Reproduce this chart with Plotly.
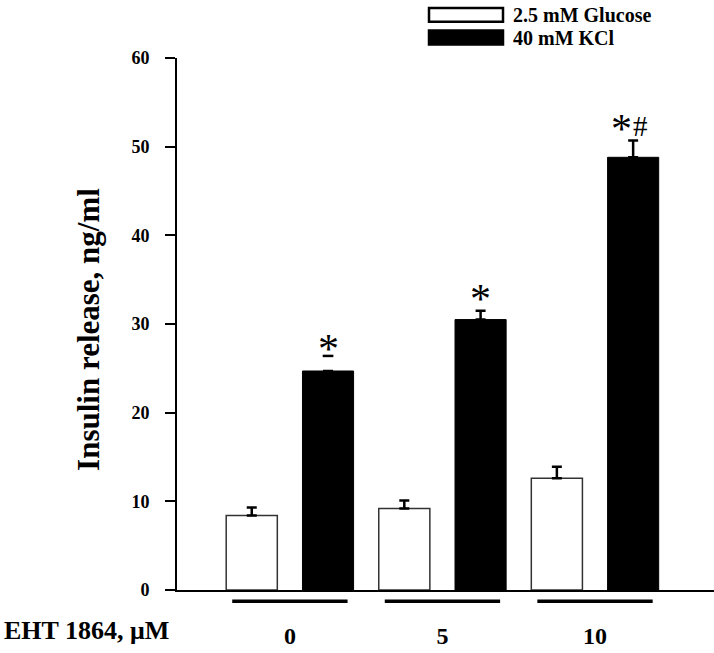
import plotly.graph_objects as go

groups = ["0", "5", "10"]
series_names = ["2.5 mM Glucose", "40 mM KCl"]
glucose = [8.4, 9.2, 12.6]
glucose_err = [0.9, 0.9, 1.3]
kcl = [24.7, 30.5, 48.8]
kcl_err = [0.0, 1.0, 1.9]
kcl0_cap = 26.4  # floating SEM cap over first KCl bar
star_marks = ["*", "*", "*"]
hash_marks = ["", "", "#"]
sig_y = [27.2, 32.8, 52.0]
y_ticks = [0, 10, 20, 30, 40, 50, 60]

FONT = "Liberation Serif"
xpos = list(range(len(groups)))

fig = go.Figure()
fig.add_trace(go.Bar(
    x=xpos, y=glucose, name=series_names[0],
    marker=dict(color="white", line=dict(color="#333", width=1.5)),
    error_y=dict(type="data", array=glucose_err, arrayminus=[0]*3, symmetric=False,
                 color="black", thickness=2.5, width=5),
    showlegend=False,
))
fig.add_trace(go.Bar(
    x=xpos, y=kcl, name=series_names[1],
    marker=dict(color="black", line=dict(color="black", width=1)),
    error_y=dict(type="data", array=kcl_err, arrayminus=[0]*3, symmetric=False,
                 color="black", thickness=2.5, width=5),
    showlegend=False,
))
# floating cap over first KCl bar
fig.add_shape(type="line", xref="x", yref="y",
              x0=xpos[0] + 0.25 - 0.035, x1=xpos[0] + 0.25 + 0.035,
              y0=kcl0_cap, y1=kcl0_cap, line=dict(color="black", width=2.5))

for i in xpos:
    has_hash = hash_marks[i] != ""
    fig.add_annotation(x=xpos[i] + 0.25 - (0.075 if has_hash else 0), y=sig_y[i],
                       xref="x", yref="y", text=star_marks[i],
                       showarrow=False, font=dict(family=FONT, size=42, color="black"),
                       yanchor="middle")
    if has_hash:
        fig.add_annotation(x=xpos[i] + 0.25 + 0.05, y=sig_y[i] + 0.3,
                           xref="x", yref="y", text=hash_marks[i],
                           showarrow=False, font=dict(family=FONT, size=29, color="black"),
                           yanchor="middle")

# group underlines below the axis
for i in xpos:
    fig.add_shape(type="line", xref="x", yref="paper", x0=i - 0.378, x1=i + 0.378,
                  y0=-0.021, y1=-0.021, line=dict(color="black", width=3.5))

fig.add_annotation(x=-0.326, y=-0.077, xref="paper", yref="paper", text="<b>EHT 1864, μM</b>",
                   showarrow=False, xanchor="left", yanchor="middle",
                   font=dict(family=FONT, size=26, color="black"))

fig.add_annotation(x=-0.201, y=0.49, xref="paper", yref="paper",
                   text="<b>Insulin release, ng/ml</b>", textangle=-90, showarrow=False,
                   font=dict(family=FONT, size=31, color="black"))

# legend drawn manually
leg_y = [1.081, 1.0385]
fills = ["white", "black"]
for k in range(2):
    fig.add_shape(type="rect", xref="paper", yref="paper",
                  x0=(429 - 177) / 537, x1=(503 - 177) / 537,
                  y0=leg_y[k] - 0.013, y1=leg_y[k] + 0.013,
                  fillcolor=fills[k], line=dict(color="black", width=2.5))
    fig.add_annotation(x=(511 - 177) / 537, y=leg_y[k], xref="paper", yref="paper",
                       text="<b>" + series_names[k] + "</b>", showarrow=False,
                       xanchor="left", yanchor="middle",
                       font=dict(family=FONT, size=20, color="black"))

fig.update_layout(
    width=714, height=653,
    margin=dict(l=177, r=0, t=58, b=63),
    paper_bgcolor="white", plot_bgcolor="white",
    barmode="group", bargap=0.0, bargroupgap=0.33,
    font=dict(family=FONT, color="black"),
)
fig.update_xaxes(
    range=[-0.74, 2.78], tickvals=xpos, ticktext=["<b>%s</b>" % g for g in groups],
    tickfont=dict(family=FONT, size=24, color="black"), ticks="",
    ticklabelstandoff=23, showline=True, linecolor="black", linewidth=2,
    showgrid=False, zeroline=False,
)
fig.update_yaxes(
    range=[0, 60], tickvals=y_ticks, ticktext=["<b>%d</b>" % v for v in y_ticks],
    tickfont=dict(family=FONT, size=18, color="black"), ticks="outside", ticklen=10,
    tickwidth=2, tickcolor="black", ticklabelstandoff=12,
    showline=True, linecolor="black", linewidth=2, showgrid=False, zeroline=False,
)

fig.write_html("out.html", config={"displayModeBar": False},
               post_script="document.body.style.margin='0';")
